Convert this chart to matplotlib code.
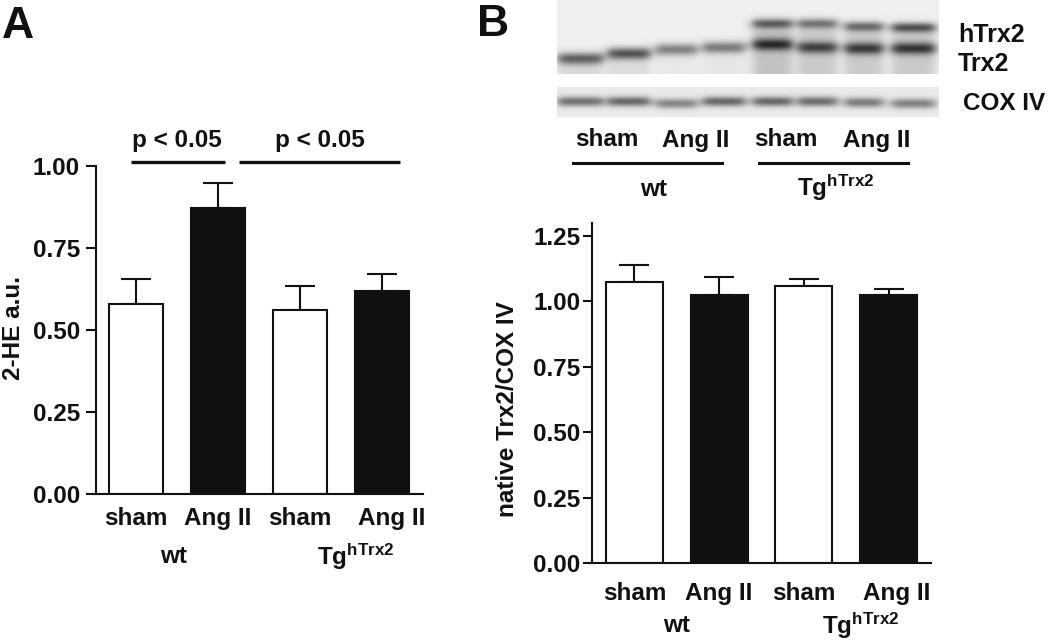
import numpy as np
import matplotlib
matplotlib.use("Agg")
import matplotlib.pyplot as plt

plt.rcParams['font.family'] = ['Liberation Sans', 'DejaVu Sans']
plt.rcParams['font.weight'] = 'bold'
plt.rcParams['mathtext.fontset'] = 'custom'
plt.rcParams['mathtext.rm'] = 'Liberation Sans:bold'
plt.rcParams['mathtext.it'] = 'Liberation Sans:bold'
plt.rcParams['mathtext.bf'] = 'Liberation Sans:bold'

W_PX, H_PX = 1050, 642
INK = '#111111'

# data
groups = ['sham', 'Ang II', 'sham', 'Ang II']
genotypes = ['wt', r'$\mathrm{Tg}^{\mathrm{hTrx2}}$']
bar_colors = ['white', INK, 'white', INK]

he_mean = [0.579, 0.871, 0.560, 0.618]
he_sem = [0.076, 0.076, 0.073, 0.052]
he_ticks = [0.00, 0.25, 0.50, 0.75, 1.00]

trx_mean = [1.076, 1.026, 1.060, 1.026]
trx_sem = [0.062, 0.066, 0.026, 0.020]
trx_ticks = [0.00, 0.25, 0.50, 0.75, 1.00, 1.25]

# western blot lanes: band darkness per lane
lane_labels = ['sham', 'Ang II', 'sham', 'Ang II']
trx2_band = [0.52, 0.58, 0.42, 0.44, 0.62, 0.55, 0.58, 0.60]
htrx2_band = [0.0, 0.0, 0.0, 0.0, 0.50, 0.42, 0.46, 0.56]
cox_band = [0.48, 0.52, 0.40, 0.52, 0.52, 0.50, 0.44, 0.42]
smear = [0.09, 0.08, 0.03, 0.04, 0.18, 0.15, 0.15, 0.15]


def px(x, y):
    return x / W_PX, 1 - y / H_PX


fig = plt.figure(figsize=(10.5, 6.42), dpi=100)


def bar_panel(rect, mean, sem, ticks, ylim, xlim, width, ylabel, lab_x, lab_y,
              tick_pad, tick_len, grp_y, geno_y, geno_x, last_shift):
    ax = fig.add_axes(rect)
    x = np.arange(len(mean))
    ax.bar(x, mean, width=width, color=bar_colors, edgecolor=INK, linewidth=1.5, zorder=2)
    ax.errorbar(x, mean, yerr=[[0] * len(sem), sem], fmt='none', ecolor=INK,
                elinewidth=1.5, capsize=10.5, capthick=1.5, zorder=1)
    ax.set_xlim(*xlim)
    ax.set_ylim(*ylim)
    ax.set_yticks(ticks)
    ax.set_yticklabels([f'{t:.2f}' for t in ticks])
    ax.set_xticks([])
    for s in ['top', 'right']:
        ax.spines[s].set_visible(False)
    for s in ['left', 'bottom']:
        ax.spines[s].set_linewidth(1.5)
        ax.spines[s].set_color(INK)
    ax.tick_params(axis='y', direction='out', length=tick_len, width=1.5,
                   pad=tick_pad, labelsize=17.5, colors=INK)
    ax.text(lab_x, lab_y, ylabel, transform=ax.transAxes, rotation=90,
            ha='center', va='center', fontsize=17.5, color=INK)
    trans = ax.get_xaxis_transform()
    for i, g in enumerate(groups):
        xi = x[i] + (last_shift if i == 3 else 0)
        ax.text(xi, grp_y, g, transform=trans, ha='center', va='center',
                fontsize=17.5, color=INK)
    for gx, g in zip(geno_x, genotypes):
        ax.text(gx, geno_y, g, transform=trans, ha='center', va='center',
                fontsize=17.5, color=INK)
    return ax


# panel A
axA = bar_panel([96 / W_PX, 1 - 494 / H_PX, 327 / W_PX, 328 / H_PX],
                he_mean, he_sem, he_ticks, (0, 1.0), (-0.49, 3.5), 0.66,
                '2-HE a.u.', -0.251, 0.506, 4.3, 7.2,
                -0.076, -0.192, [0.45, 2.68], 0.12)
for (x0, x1), xt in [((-0.063, 1.084), 0.5), ((1.25, 3.22), 2.24)]:
    axA.plot([x0, x1], [1.012, 1.012], color=INK, lw=2.4, clip_on=False,
             solid_capstyle='butt')
    axA.text(xt, 1.079, 'p < 0.05', ha='center', va='center', fontsize=17.5,
             color=INK, clip_on=False)

# panel B
axB = bar_panel([592 / W_PX, 1 - 563 / H_PX, 339 / W_PX, 340 / H_PX],
                trx_mean, trx_sem, trx_ticks, (0, 1.3), (-0.5, 3.5), 0.67,
                'native Trx2/COX IV', -0.248, 0.453, 2.0, 6.5,
                -0.091, -0.184, [0.50, 2.67], 0.1)

fig.text(*px(18, 26), 'A', fontsize=32, ha='center', va='center', color=INK)
fig.text(*px(493, 24), 'B', fontsize=32, ha='center', va='center', color=INK)

# blot image
bx0, bx1, bh = 557, 939, 117
lane_left = [558, 608, 656, 703, 753, 798, 845, 892]
lane_right = [603, 650, 697, 745, 792, 837, 883, 935]
trx2_row = [58, 53, 49, 47, 44, 47, 48, 48]
htrx2_row = [23, 23, 23, 23, 23, 23, 26, 27]
cox_row = [101, 101, 103, 101, 101, 101, 102, 103]

yy, xx = np.mgrid[0:bh, 0:bx1 - bx0]
xx = xx + bx0 + 0.5
top = yy < 74
low = (yy >= 87) & (yy < bh)
img = np.ones(yy.shape)
img[top] = 0.94
img[low] = 0.92
for i in range(8):
    lm = 1 / (1 + np.exp(-(xx - lane_left[i]) / 3.0)) / (1 + np.exp((xx - lane_right[i]) / 3.0))
    d = trx2_band[i] * np.exp(-((yy - trx2_row[i]) / 6.0) ** 2)
    d += htrx2_band[i] * np.exp(-((yy - htrx2_row[i]) / 5.0) ** 2)
    start = htrx2_row[i] if htrx2_band[i] > 0 else trx2_row[i]
    d += smear[i] / (1 + np.exp(-(yy - start) / 3.0))
    c = cox_band[i] * np.exp(-((yy - cox_row[i]) / 5.0) ** 2)
    img -= d * lm * top + c * lm * low
axBlot = fig.add_axes([bx0 / W_PX, 1 - bh / H_PX, (bx1 - bx0) / W_PX, bh / H_PX])
axBlot.imshow(img, cmap='gray', vmin=0, vmax=1, extent=(bx0, bx1, bh, 0),
              aspect='auto', interpolation='bilinear')
axBlot.axis('off')

fig.text(*px(958, 35), 'hTrx2', fontsize=18, ha='left', va='center', color=INK)
fig.text(*px(958, 64), 'Trx2', fontsize=18, ha='left', va='center', color=INK)
fig.text(*px(963, 104), 'COX IV', fontsize=17.5, ha='left', va='center', color=INK)

for xc, lab in zip([607, 696, 786, 877], lane_labels):
    fig.text(*px(xc, 140), lab, fontsize=17.5, ha='center', va='center', color=INK)
for (x0, x1) in [(573, 722), (759, 908)]:
    fig.add_artist(plt.Line2D([x0 / W_PX, x1 / W_PX], [1 - 163 / H_PX] * 2,
                              color=INK, lw=2.2, transform=fig.transFigure))
fig.text(*px(654, 190), genotypes[0], fontsize=17.5, ha='center', va='center', color=INK)
fig.text(*px(836, 188), genotypes[1], fontsize=17.5, ha='center', va='center', color=INK)

fig.savefig('out.png', dpi=100, facecolor='white')
